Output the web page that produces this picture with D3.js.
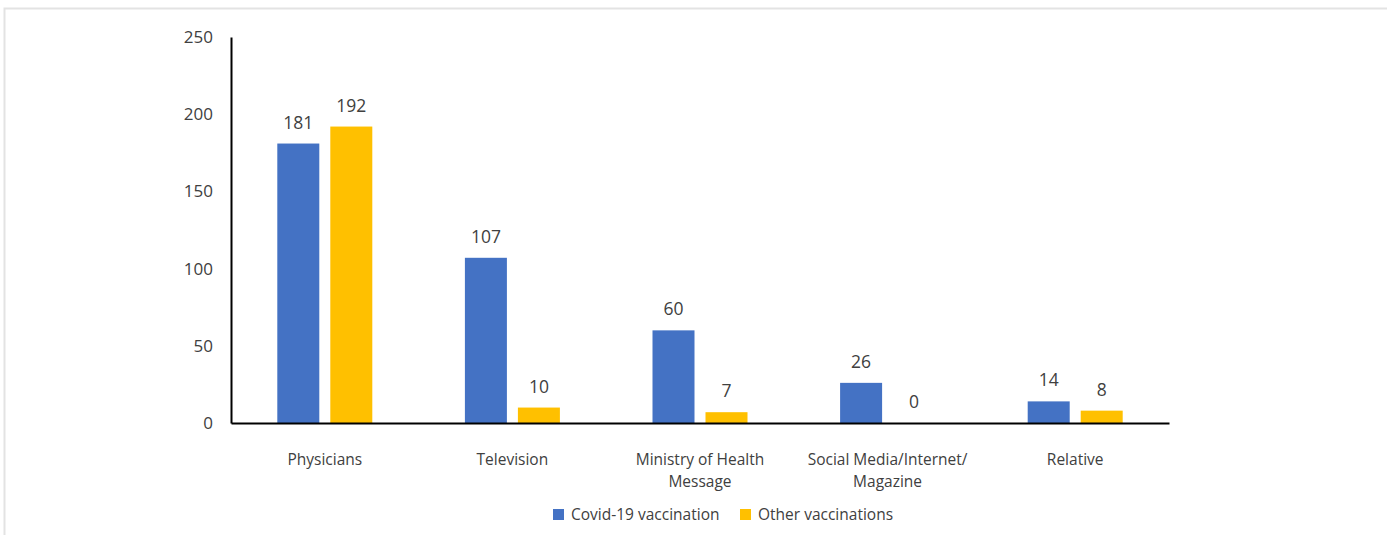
<!DOCTYPE html>
<html>
<head>
<meta charset="utf-8">
<script src="https://cdn.jsdelivr.net/npm/d3@7"></script>
<style>
  body { margin: 0; background: #fff; }
  svg text { font-family: "Open Sans", "Liberation Sans", sans-serif; fill: #404040; }
</style>
</head>
<body>
<div id="chart"></div>
<script>
// data
var categories = ["Physicians", "Television", "Ministry of Health|Message", "Social Media/Internet/|Magazine", "Relative"];
var covid = [181, 107, 60, 26, 14];
var other = [192, 10, 7, 0, 8];
var seriesNames = ["Covid-19 vaccination", "Other vaccinations"];
var seriesColors = ["#4472C4", "#FFC000"];
var yTicks = [0, 50, 100, 150, 200, 250];

var W = 1387, H = 535;
var svg = d3.select("#chart").append("svg").attr("width", W).attr("height", H);

// light frame like the original screenshot
svg.append("rect").attr("x", 4.5).attr("y", 8.5).attr("width", W).attr("height", H)
   .style("fill", "none").style("stroke", "#e3e3e3").style("stroke-width", 2);

var plotL = 231, plotR = 1169, plotT = 37, plotB = 423;

var x = d3.scaleBand().domain(categories).range([plotL, plotR]);
var y = d3.scaleLinear().domain([0, 250]).range([plotB, plotT]);

var barW = 42, gap = 11;
var rows = categories.map(function(c, i) { return {cat: c, vals: [covid[i], other[i]]}; });

// bars
rows.forEach(function(r) {
  var cx = x(r.cat) + x.bandwidth() / 2;
  r.vals.forEach(function(v, s) {
    var bx = s === 0 ? cx - gap / 2 - barW : cx + gap / 2;
    svg.append("rect")
      .attr("x", bx).attr("y", y(v))
      .attr("width", barW).attr("height", plotB - y(v))
      .style("fill", seriesColors[s]);
    svg.append("text")
      .attr("x", bx + barW / 2).attr("y", y(v) - 15)
      .attr("text-anchor", "middle")
      .style("font-size", "17.5px")
      .text(v);
  });
});

// y axis
var yAxis = svg.append("g").attr("transform", "translate(" + plotL + ",0)")
  .call(d3.axisLeft(y).tickValues(yTicks).tickSize(0).tickPadding(18));
yAxis.select(".domain").style("stroke", "#000").style("stroke-width", 2);
yAxis.selectAll("text").style("font-size", "17px").style("font-family", "Open Sans, sans-serif").style("fill", "#404040");

// x axis
var xAxis = svg.append("g").attr("transform", "translate(0," + plotB + ")")
  .call(d3.axisBottom(x).tickSize(0).tickFormat(""));
xAxis.select(".domain").style("stroke", "#000").style("stroke-width", 2);

// category labels (two lines where needed)
categories.forEach(function(c) {
  var lines = c.split("|");
  var t = svg.append("text")
    .attr("x", x(c) + x.bandwidth() / 2).attr("y", 465)
    .attr("text-anchor", "middle")
    .style("font-size", "15.5px");
  lines.forEach(function(l, i) {
    t.append("tspan").attr("x", x(c) + x.bandwidth() / 2).attr("dy", i === 0 ? 0 : 22).text(l);
  });
});

// legend
var legX = [553, 740];
seriesNames.forEach(function(n, i) {
  svg.append("rect").attr("x", legX[i]).attr("y", 509).attr("width", 11).attr("height", 11)
     .style("fill", seriesColors[i]);
  svg.append("text").attr("x", legX[i] + 18).attr("y", 520)
     .style("font-size", "15.5px").text(n);
});
</script>
</body>
</html>
